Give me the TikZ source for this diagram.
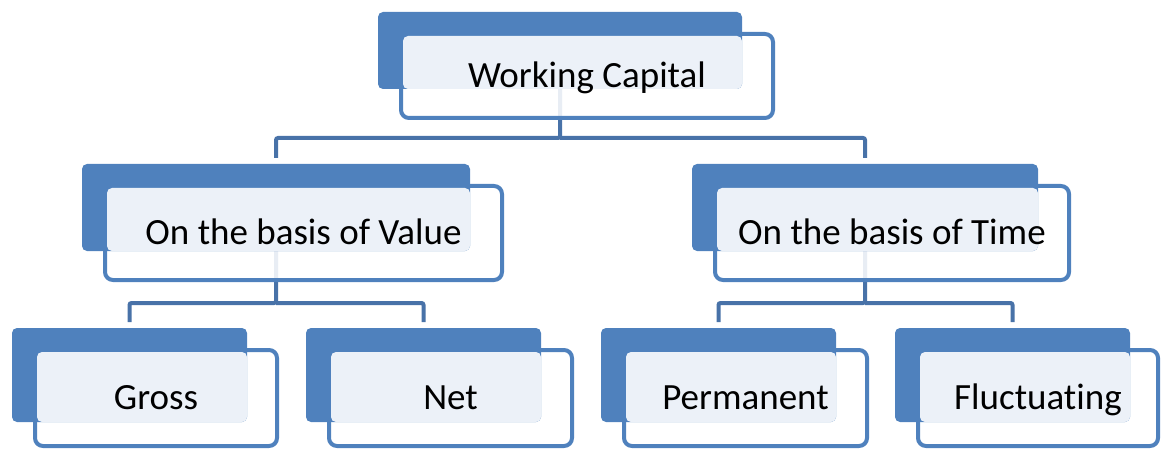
\documentclass[tikz,border=0pt]{standalone}
\usepackage{fontspec}
\setmainfont{Carlito}[Ligatures=NoCommon]
\usetikzlibrary{backgrounds}
\definecolor{boxblue}{HTML}{4F81BD}
\definecolor{connblue}{HTML}{4872A8}
\definecolor{lightfill}{HTML}{ECF1F8}
\tikzset{
  frontbox/.style={draw=boxblue, line width=4pt, fill=white, fill opacity=0.88, draw opacity=1, rounded corners=8pt, inner sep=0pt, outer sep=0pt, rectangle},
  backbox/.style={fill=boxblue, rounded corners=5pt, inner sep=0pt, outer sep=0pt, rectangle},
  overlapfill/.style={fill=lightfill, rounded corners=5pt},
  labeltext/.style={font=\fontsize{37}{41}\selectfont, text=black, inner sep=0pt, anchor=base},
  conn/.style={draw=connblue, line width=4pt, rounded corners=2pt}
}
% name, back x1, back y1, back x2, back y2, front x2, front y2, text
\newcommand\wcbox[8]{%
  \node[frontbox, minimum width={(#6-#2-23)*1pt}, minimum height={(#7-#3-22)*1pt}] (#1F) at ({(#2+23+#6)/2},{(#3+22+#7)/2}) {};
  \node[backbox, minimum width={(#4-#2)*1pt}, minimum height={(#5-#3)*1pt}] (#1B) at ({(#2+#4)/2},{(#3+#5)/2}) {};
  \fill[overlapfill] ([shift={(2pt,-2pt)}]#1F.north west) rectangle (#1B.south east);
  \node[labeltext] (#1T) at ([yshift=-11.7pt]#1F.center) {#8};
}
\begin{document}
\begin{tikzpicture}[x=1pt,y=-1pt]
\useasboundingbox (0,0) rectangle (1161,449);
\wcbox{top}{378}{12}{742}{89}{773}{118}{Working Capital}
\wcbox{val}{82}{164}{470}{251}{502}{280}{On the basis of Value}
\wcbox{tim}{692}{164}{1038}{251}{1069}{280}{On the basis of Time}
\wcbox{gro}{12}{328}{247}{422}{277}{446}{Gross}
\wcbox{net}{306}{328}{541}{422}{572}{446}{Net}
\wcbox{per}{601}{328}{836}{422}{867}{446}{Permanent}
\wcbox{flu}{895}{328}{1130}{422}{1158}{446}{Fluctuating}
\coordinate (bus1) at (0,138);
\coordinate (bus2) at (0,303);
\begin{scope}[on background layer]
  \draw[conn, shorten >=6pt] (topB.south) -- (topB.south |- bus1) -| (valB.north);
  \draw[conn, shorten >=6pt] (topB.south |- bus1) -| (timB.north);
  \draw[conn, shorten >=6pt] (valB.south) -- (valB.south |- bus2) -| (groB.north);
  \draw[conn, shorten >=6pt] (valB.south |- bus2) -| (netB.north);
  \draw[conn, shorten >=6pt] (timB.south) -- (timB.south |- bus2) -| (perB.north);
  \draw[conn, shorten >=6pt] (timB.south |- bus2) -| (fluB.north);
\end{scope}
\end{tikzpicture}
\end{document}
